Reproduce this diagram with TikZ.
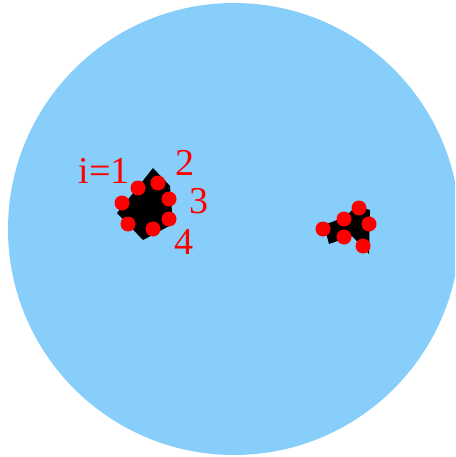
\documentclass[tikz,border=0pt]{standalone}
\usepackage{fontspec}
\setmainfont{Liberation Serif}
\definecolor{sky}{HTML}{87CEFA}
\tikzset{dot/.style={circle,fill=red,inner sep=0pt,minimum size=15pt},
  lbl/.style={text=red,font=\fontsize{38}{40}\selectfont,inner sep=0pt}}
\begin{document}
\begin{tikzpicture}[x=1pt,y=-1pt]
\useasboundingbox (0,0) rectangle (455,457);
\begin{scope}
\clip (0,0) rectangle (455,457);
\fill[sky] (234,229) circle (226);
\end{scope}
% left cluster
\fill[black] (153,168) -- (170,186) -- (173,224) -- (143,240) -- (117,213) -- (134,192) -- cycle;
\node[dot] (a1) at (122,203) {};
\node[dot] (a2) at (138,188) {};
\node[dot] (a3) at (158,183) {};
\node[dot] (a4) at (169,199) {};
\node[dot] (a5) at (169,219) {};
\node[dot] (a6) at (153,229) {};
\node[dot] (a7) at (128,224) {};
\node[lbl] (l1) at (104,171) {i=1};
\node[lbl] (l2) at (185,163) {2};
\node[lbl] (l3) at (199,201) {3};
\node[lbl] (l4) at (184,242) {4};
% right cluster
\fill[black] (324,225) -- (345,217) -- (356,206) -- (370,210) -- (369,254) -- (352,236) -- (329,244) -- cycle;
\node[dot] (b1) at (323,229) {};
\node[dot] (b2) at (344,219) {};
\node[dot] (b3) at (359,208) {};
\node[dot] (b4) at (369,224) {};
\node[dot] (b5) at (363,246) {};
\node[dot] (b6) at (344,237) {};
\end{tikzpicture}
\end{document}
